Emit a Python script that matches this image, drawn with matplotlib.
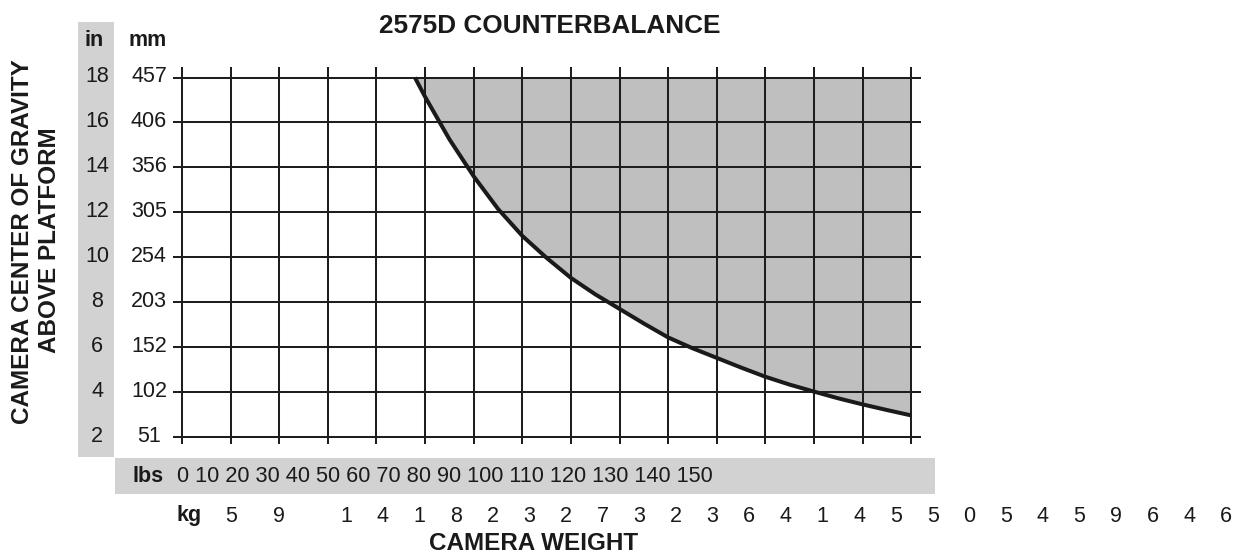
import numpy as np
import matplotlib
matplotlib.use("Agg")
import matplotlib.pyplot as plt
from matplotlib.patches import Rectangle
import matplotlib.transforms as mtransforms

plt.rcParams['font.family'] = ['Liberation Sans', 'DejaVu Sans']

# ---------------- data ----------------
title = "2575D COUNTERBALANCE"
lbs_ticks = [0, 10, 20, 30, 40, 50, 60, 70, 80, 90, 100, 110, 120, 130, 140, 150]
in_ticks = [18, 16, 14, 12, 10, 8, 6, 4, 2]
mm_ticks = [457, 406, 356, 305, 254, 203, 152, 102, 51]
kg_first = ['5', '9']
kg_rest = ['1', '4', '1', '8', '2', '3', '2', '7', '3', '2', '3', '6', '4',
           '1', '4', '5', '5', '0', '5', '4', '5', '9', '6', '4', '6']
# counterbalance limit curve (camera weight in lbs, CG height in inches)
curve_lbs = [47.9, 50, 55, 60, 65, 70, 75, 80, 85, 90, 95, 100, 105, 110,
             115, 120, 125, 130, 135, 140, 145, 150]
curve_in = [18, 17.14, 15.25, 13.6, 12.15, 10.95, 9.97, 9.08, 8.35, 7.7,
            7.05, 6.43, 5.95, 5.52, 5.09, 4.68, 4.33, 4.02, 3.72, 3.45,
            3.2, 2.96]

# ---------------- figure ----------------
W, H = 1237, 560
fig = plt.figure(figsize=(W / 100, H / 100), dpi=100)
fig.patch.set_facecolor('white')

def fx(px):
    return px / W

def fy(py):
    return 1 - py / H

# axes spanning the grid
x0, x1 = 182, 911.3
ytop, ybot = 77.5, 437
ax = fig.add_axes([fx(x0), fy(ybot), fx(x1) - fx(x0), fy(ytop) - fy(ybot)])
ax.set_xlim(0, 150)
ax.set_ylim(2, 18)
ax.axis('off')

# gray label bars
fig.add_artist(Rectangle((fx(78), fy(457)), fx(114) - fx(78), fy(22) - fy(457),
                         transform=fig.transFigure, facecolor='#d2d2d2',
                         edgecolor='none', zorder=0))
fig.add_artist(Rectangle((fx(115), fy(494)), fx(935) - fx(115), fy(458) - fy(494),
                         transform=fig.transFigure, facecolor='#d2d2d2',
                         edgecolor='none', zorder=0))

# shaded region
cx = np.array(curve_lbs)
cy = np.array(curve_in)
ax.fill_between(cx, cy, 18, facecolor='#bfbfbf', edgecolor='none', zorder=1)

# grid lines (with small tick extensions)
grid_col = '#1e1e1e'
ax.vlines(lbs_ticks, 1.69, 18.48, colors=grid_col, linewidth=1.45,
          clip_on=False, zorder=2)
ax.hlines(in_ticks, -1.9, 151.9, colors=grid_col, linewidth=1.45,
          clip_on=False, zorder=2)

# curve
ax.plot(cx, cy, color='#1a1a1a', linewidth=2.9, solid_capstyle='butt',
        solid_joinstyle='round', clip_on=False, zorder=3)

txt_col = '#1a1a1a'
num_fs = 15.5
lab_fs = 15.5

# y tick labels
trans_y = mtransforms.blended_transform_factory(fig.transFigure, ax.transData)
for v_in, v_mm in zip(in_ticks, mm_ticks):
    fig.text(fx(97), v_in + 0.03, str(v_in), transform=trans_y, ha='center',
             va='center', fontsize=num_fs, color=txt_col)
    fig.text(fx(149), v_in + 0.03, str(v_mm), transform=trans_y, ha='center',
             va='center', fontsize=num_fs, color=txt_col)

# header labels
fig.text(fx(94), fy(40), 'in', ha='center', va='center', fontsize=lab_fs,
         fontweight='bold', color=txt_col)
fig.text(fx(148), fy(40), 'mm', ha='center', va='center', fontsize=lab_fs,
         fontweight='bold', color=txt_col)

# title
fig.text(fx(550), fy(26), title, ha='center', va='center', fontsize=18.8,
         fontweight='bold', color=txt_col)

# y axis title (two lines)
fig.text(fx(23), fy(242), 'CAMERA CENTER OF GRAVITY', rotation=90, ha='center',
         va='center', fontsize=17.5, fontweight='bold', color=txt_col)
fig.text(fx(50), fy(240), 'ABOVE PLATFORM', rotation=90, ha='center',
         va='center', fontsize=17.5, fontweight='bold', color=txt_col)

# lbs row
fig.text(fx(133), fy(477), 'lbs', ha='left', va='center', fontsize=lab_fs,
         fontweight='bold', color=txt_col)
fig.text(fx(177), fy(477), ' '.join(str(v) for v in lbs_ticks), ha='left',
         va='center', fontsize=15.7, color=txt_col)

# kg row
fig.text(fx(177), fy(515), 'kg', ha='left', va='center', fontsize=lab_fs,
         fontweight='bold', color=txt_col)
trans_x = mtransforms.blended_transform_factory(ax.transData, fig.transFigure)
for lab, xv in zip(kg_first, lbs_ticks[1:3]):
    fig.text(xv, fy(516), lab, transform=trans_x, ha='center', va='center',
             fontsize=num_fs, color=txt_col)
kg_pos = np.linspace(346, 1226, len(kg_rest))
for lab, px in zip(kg_rest, kg_pos):
    fig.text(fx(px), fy(516), lab, ha='center', va='center',
             fontsize=num_fs, color=txt_col)

# x axis title
fig.text(fx(534), fy(544), 'CAMERA WEIGHT', ha='center', va='center',
         fontsize=17.5, fontweight='bold', color=txt_col)

fig.savefig('out.png', dpi=100)
